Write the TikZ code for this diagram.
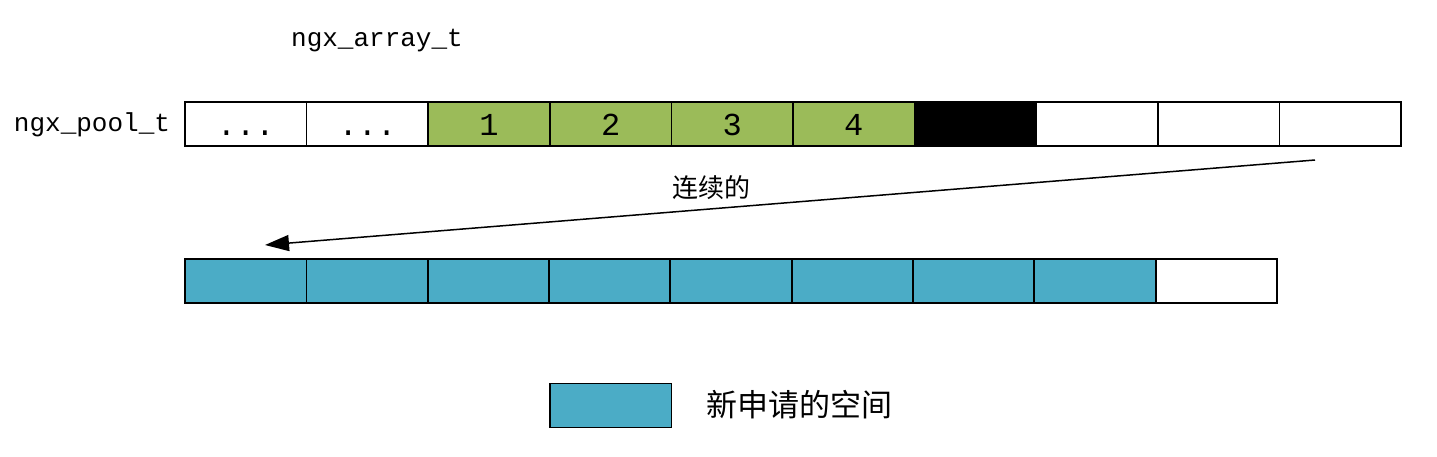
\documentclass[tikz,border=0pt]{standalone}
\usepackage{fontspec}
\setmonofont{Liberation Mono}
\newfontfamily\cjk{Noto Sans CJK SC}
\usetikzlibrary{arrows.meta}
\definecolor{cellgreen}{RGB}{155,187,89}
\definecolor{cellblue}{RGB}{75,172,198}
\begin{document}
\begin{tikzpicture}[x=1pt,y=-1pt,
  cell/.style={minimum width=121.6pt, minimum height=44pt, text height=22pt, text depth=0pt,
    inner sep=0pt, outer sep=0pt, anchor=west, font=\fontsize{32}{34}\ttfamily},
  border/.style={line width=1.6pt},
  lbl/.style={font=\fontsize{26}{30}\ttfamily, inner sep=0pt}]
  \useasboundingbox (0,0) rectangle (1437,456);
  \def\cw{121.6}

  \node[lbl] (arr) at (377,41) {ngx\_array\_t};
  \node[lbl] (pool) at (92,125) {ngx\_pool\_t};

  % pool row
  \node[cell] (p1) at (185,124) {...};
  \node[cell] (p2) at (185+\cw,124) {...};
  \node[cell, fill=cellgreen] (p3) at (185+2*\cw,124) {1};
  \node[cell, fill=cellgreen] (p4) at (185+3*\cw,124) {2};
  \node[cell, fill=cellgreen] (p5) at (185+4*\cw,124) {3};
  \node[cell, fill=cellgreen] (p6) at (185+5*\cw,124) {4};
  \node[cell, fill=black] (p7) at (185+6*\cw,124) {};
  \node[cell] (p8) at (185+7*\cw,124) {};
  \node[cell] (p9) at (185+8*\cw,124) {};
  \node[cell] (p10) at (185+9*\cw,124) {};

  % new space row
  \foreach \i in {0,...,7}
    \node[cell, fill=cellblue] (n\i) at (185+\i*121.3,281) {};
  \node[cell] (n8) at (185+8*121.3,281) {};

  % legend
  \node[cell, fill=cellblue] (key) at (550,405.5) {};
  \node[font=\fontsize{31}{34}\cjk, inner sep=0pt, anchor=west] (keytxt) at (706,405) {新申请的空间};

  % borders on top of the fills
  \foreach \n in {p1,p2,p3,p4,p5,p6,p7,p8,p9,p10,n0,n1,n2,n3,n4,n5,n6,n7,n8,key}
    \draw[border] (\n.south west) rectangle (\n.north east);

  % arrow
  \coordinate (from) at (1315,160);
  \coordinate (to) at (265,245);
  \draw[line width=1.5pt, -{Triangle[length=24pt,width=16pt]}] (from) -- (to);
  \node[font=\fontsize{26}{28}\cjk, inner sep=0pt] (cont) at (711,188) {连续的};
\end{tikzpicture}
\end{document}
